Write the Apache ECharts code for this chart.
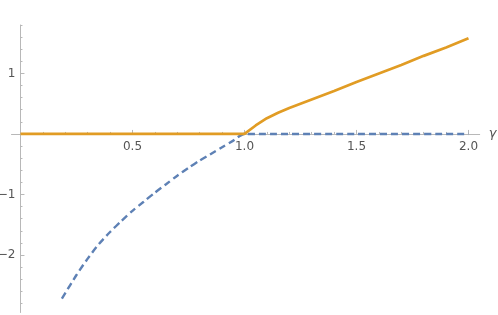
<!DOCTYPE html>
<html><head><meta charset="utf-8">
<script src="https://cdn.jsdelivr.net/npm/echarts@6/dist/echarts.min.js"></script>
<style>html,body{margin:0;padding:0;background:#fff}#c{width:498px;height:315px}</style>
</head><body><div id="c"></div>
<script>
// Data
const blueX = [0.185, 0.20, 0.25, 0.30, 0.35, 0.40, 0.45, 0.50, 0.55, 0.60, 0.65, 0.70, 0.75, 0.80, 0.85, 0.90, 0.95, 1.00, 1.50, 2.00];
const blueY = [-2.72, -2.63, -2.33, -2.06, -1.82, -1.62, -1.44, -1.27, -1.12, -0.97, -0.83, -0.69, -0.56, -0.44, -0.33, -0.22, -0.11, 0, 0, 0];
const orangeX = [0, 0.5, 1.00, 1.05, 1.10, 1.15, 1.20, 1.30, 1.40, 1.50, 1.60, 1.70, 1.80, 1.90, 2.00];
const orangeY = [0, 0, 0, 0.14, 0.26, 0.35, 0.43, 0.57, 0.71, 0.86, 1.00, 1.14, 1.29, 1.43, 1.58];
const xMajor = [0.5, 1.0, 1.5, 2.0];
const xMinor = [0.1, 0.2, 0.3, 0.4, 0.6, 0.7, 0.8, 0.9, 1.1, 1.2, 1.3, 1.4, 1.6, 1.7, 1.8, 1.9];
const yMajor = [-2, -1, 1];
const yMinor = [-2.8, -2.6, -2.4, -2.2, -1.8, -1.6, -1.4, -1.2, -0.8, -0.6, -0.4, -0.2, 0.2, 0.4, 0.6, 0.8, 1.2, 1.4, 1.6, 1.8];
const xLabel = 'γ';

const axisColor = '#b8b8b8';
const labelColor = '#555';
const X_MIN = -0.04, X_MAX = 2.05, Y_MIN = -2.95, Y_MAX = 1.8;

// grid geometry (pixels)
const G = {left: 11.5, top: 25, width: 468.2, height: 287.5};
// place the axes through the origin via offsets (axis lines cross at 0,0)
const yZeroPx = G.top + G.height * (Y_MAX - 0) / (Y_MAX - Y_MIN);
const xZeroPx = G.left + G.width * (0 - X_MIN) / (X_MAX - X_MIN);
const xAxisOffset = -(G.top + G.height - yZeroPx);
const yAxisOffset = -(xZeroPx - G.left);

const zip = (a, b) => a.map((v, i) => [v, b[i]]);
const fmtY = v => String(v).replace('-', '\u2212');

const chart = echarts.init(document.getElementById('c'), null, {renderer: 'canvas'});
chart.setOption({
  animation: false,
  grid: Object.assign({containLabel: false, outerBoundsMode: 'none'}, G),
  xAxis: [
    {type: 'value', min: X_MIN, max: X_MAX, position: 'bottom', offset: xAxisOffset,
     axisLine: {onZero: false, lineStyle: {color: axisColor, width: 1}},
     axisTick: {show: true, inside: true, length: 4, customValues: xMajor, lineStyle: {color: axisColor}},
     axisLabel: {customValues: xMajor, color: labelColor, fontSize: 12, margin: 7,
                 fontFamily: 'DejaVu Sans', formatter: v => v.toFixed(1)},
     splitLine: {show: false},
     name: xLabel, nameLocation: 'end', nameGap: 9,
     nameTextStyle: {color: labelColor, fontSize: 13, fontStyle: 'italic', fontFamily: 'DejaVu Sans', verticalAlign: 'middle'}},
    {type: 'value', min: X_MIN, max: X_MAX, position: 'bottom', offset: xAxisOffset,
     axisLine: {show: false, onZero: false},
     axisTick: {show: true, inside: true, length: 2, customValues: xMinor, lineStyle: {color: axisColor}},
     axisLabel: {show: false}, splitLine: {show: false}}
  ],
  yAxis: [
    {type: 'value', min: Y_MIN, max: Y_MAX, position: 'left', offset: yAxisOffset,
     axisLine: {onZero: false, lineStyle: {color: axisColor, width: 1}},
     axisTick: {show: true, inside: true, length: 4, customValues: yMajor, lineStyle: {color: axisColor}},
     axisLabel: {customValues: yMajor, color: labelColor, fontSize: 12, margin: 5,
                 fontFamily: 'DejaVu Sans', formatter: fmtY},
     splitLine: {show: false}},
    {type: 'value', min: Y_MIN, max: Y_MAX, position: 'left', offset: yAxisOffset,
     axisLine: {show: false, onZero: false},
     axisTick: {show: true, inside: true, length: 2, customValues: yMinor, lineStyle: {color: axisColor}},
     axisLabel: {show: false}, splitLine: {show: false}}
  ],
  series: [
    {type: 'line', xAxisIndex: 0, yAxisIndex: 0, data: zip(blueX, blueY), smooth: 0.25,
     showSymbol: false, lineStyle: {color: '#5E81B5', width: 2.4, type: [7, 4]}},
    {type: 'line', xAxisIndex: 0, yAxisIndex: 0, data: zip(orangeX, orangeY), smooth: false,
     showSymbol: false, lineStyle: {color: '#E19C24', width: 2.7}}
  ]
});
</script></body></html>
